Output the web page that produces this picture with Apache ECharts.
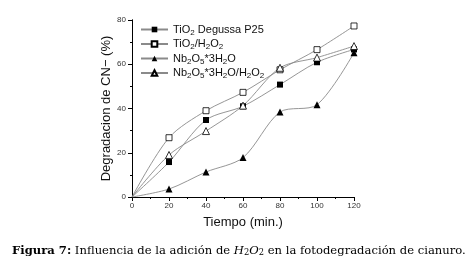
<!DOCTYPE html>
<html>
<head>
<meta charset="utf-8">
<script src="https://cdn.jsdelivr.net/npm/echarts@6/dist/echarts.min.js"></script>
<style>
  html, body { margin: 0; padding: 0; background: #fff; }
  #main { width: 472px; height: 263px; }
</style>
</head>
<body>
<div id="main"></div>
<script>
// tiempo (min.)
var tiempo = [0, 20, 40, 60, 80, 100, 120];
// degradacion de CN- (%)
var tio2P25 = [0, 15.8, 34.8, 41, 50.8, 60.9, 66.7];
var tio2H2o2 = [0, 26.8, 39, 47.3, 57.5, 66.6, 77.3];
var nb2o5 = [0, 3.6, 11.3, 17.8, 38.4, 41.7, 65.2];
var nb2o5H2o2 = [0, 19, 29.8, 41.3, 58.4, 63, 68.2];

var xTicks = [0, 20, 40, 60, 80, 100, 120];
var yTicks = [0, 20, 40, 60, 80];

var myChart = echarts.init(document.getElementById('main'));

function toData(vals) {
  var out = [];
  for (var i = 0; i < tiempo.length; i++) {
    var item = { value: [tiempo[i], vals[i]] };
    if (tiempo[i] === 0) item.symbol = 'none';  // origen sin marcador
    out.push(item);
  }
  return out;
}

function makeSeries(name, vals, symbol, filled) {
  return {
    name: name,
    type: 'line',
    smooth: 0.3,
    data: toData(vals),
    symbol: symbol,
    symbolSize: symbol === 'triangle' ? 7 : 6,
    showSymbol: true,
    lineStyle: { color: '#8a8a8a', width: 0.9 },
    itemStyle: filled
      ? { color: '#000', borderColor: '#000', borderWidth: 0 }
      : { color: '#fff', borderColor: '#000', borderWidth: 0.8 },
    emphasis: { disabled: true },
    z: 3
  };
}

var rich = {
  n: { fontFamily: 'Liberation Sans', fontSize: 11, color: '#111' },
  s: { fontFamily: 'Liberation Sans', fontSize: 8, color: '#111', verticalAlign: 'bottom', padding: [6, 0, 0, 0] }
};

var legendNames = {
  'TiO2 Degussa P25': '{n|TiO}{s|2}{n| Degussa P25}',
  'TiO2/H2O2': '{n|TiO}{s|2}{n|/H}{s|2}{n|O}{s|2}',
  'Nb2O5*3H2O': '{n|Nb}{s|2}{n|O}{s|5}{n|*3H}{s|2}{n|O}',
  'Nb2O5*3H2O/H2O2': '{n|Nb}{s|2}{n|O}{s|5}{n|*3H}{s|2}{n|O/H}{s|2}{n|O}{s|2}'
};

var axisCommon = {
  axisLine: { lineStyle: { color: '#000', width: 1 } },
  splitLine: { show: false }
};

var capFont = 'DejaVu Serif';
var capSize = 11.6;
var option = {
  animation: false,
  backgroundColor: '#fff',
  title: {
    text: '{b|Figura 7:}{r| Influencia de la adición de }{i|H}{is|2}{i|O}{is|2}{r| en la fotodegradación de cianuro.}',
    left: 12,
    top: 244,
    padding: 0,
    textStyle: {
      fontWeight: 'normal',
      rich: {
        b: { fontFamily: capFont, fontSize: capSize, fontWeight: 'bold', color: '#000' },
        r: { fontFamily: capFont, fontSize: capSize, fontWeight: 'normal', color: '#000' },
        i: { fontFamily: capFont, fontSize: capSize, fontWeight: 'normal', fontStyle: 'italic', color: '#000' },
        is: { fontFamily: capFont, fontSize: 8.3, fontWeight: 'normal', color: '#000', verticalAlign: 'bottom', padding: [5, 0, 0, 0] }
      }
    }
  },
  legend: {
    orient: 'vertical',
    left: 135,
    top: 19,
    itemWidth: 27,
    itemHeight: 7,
    itemGap: 2,
    data: ['TiO2 Degussa P25', 'TiO2/H2O2', 'Nb2O5*3H2O', 'Nb2O5*3H2O/H2O2'],
    formatter: function (name) { return legendNames[name]; },
    textStyle: { rich: rich, padding: [0, 0, 0, 0] }
  },
  grid: { left: 132, right: 118, top: 20, bottom: 66 },
  xAxis: [
    Object.assign({
      type: 'value',
      min: 0, max: 120, interval: 20,
      name: 'Tiempo (min.)',
      nameLocation: 'middle',
      nameGap: 19,
      nameTextStyle: { fontFamily: 'Liberation Sans', fontSize: 13, color: '#111' },
      axisTick: { show: true, inside: false, length: 4, lineStyle: { color: '#000' } },
      minorTick: { show: true, splitNumber: 2, length: 2, lineStyle: { color: '#000' } },
      axisLabel: {
        margin: 5, fontFamily: 'Liberation Sans', fontSize: 8, color: '#333',
        formatter: function (v) { return xTicks.indexOf(v) >= 0 ? String(v) : ''; }
      }
    }, axisCommon),
    Object.assign({
      type: 'value', position: 'top',
      min: 0, max: 120, interval: 20,
      axisTick: { show: true, inside: true, length: 4, lineStyle: { color: '#000' } },
      minorTick: { show: true, splitNumber: 2, length: 2, lineStyle: { color: '#000' } },
      axisLabel: { show: false }
    }, axisCommon)
  ],
  yAxis: [
    Object.assign({
      type: 'value',
      min: 0, max: 80, interval: 20,
      name: 'Degradacion de CN\u2212 (%)',
      nameLocation: 'middle',
      nameGap: 19,
      nameTextStyle: { fontFamily: 'Liberation Sans', fontSize: 13, color: '#111' },
      axisTick: { show: true, inside: false, length: 4, lineStyle: { color: '#000' } },
      minorTick: { show: true, splitNumber: 2, length: 2, lineStyle: { color: '#000' } },
      axisLabel: {
        margin: 6, fontFamily: 'Liberation Sans', fontSize: 8, color: '#333',
        formatter: function (v) { return yTicks.indexOf(v) >= 0 ? String(v) : ''; }
      }
    }, axisCommon),
    Object.assign({
      type: 'value', position: 'right',
      min: 0, max: 80, interval: 20,
      axisTick: { show: true, inside: true, length: 4, lineStyle: { color: '#000' } },
      minorTick: { show: true, splitNumber: 2, length: 2, lineStyle: { color: '#000' } },
      axisLabel: { show: false }
    }, axisCommon)
  ],
  series: [
    makeSeries('TiO2 Degussa P25', tio2P25, 'rect', true),
    makeSeries('TiO2/H2O2', tio2H2o2, 'rect', false),
    makeSeries('Nb2O5*3H2O', nb2o5, 'triangle', true),
    makeSeries('Nb2O5*3H2O/H2O2', nb2o5H2o2, 'triangle', false)
  ]
};

myChart.setOption(option);
</script>
</body>
</html>
